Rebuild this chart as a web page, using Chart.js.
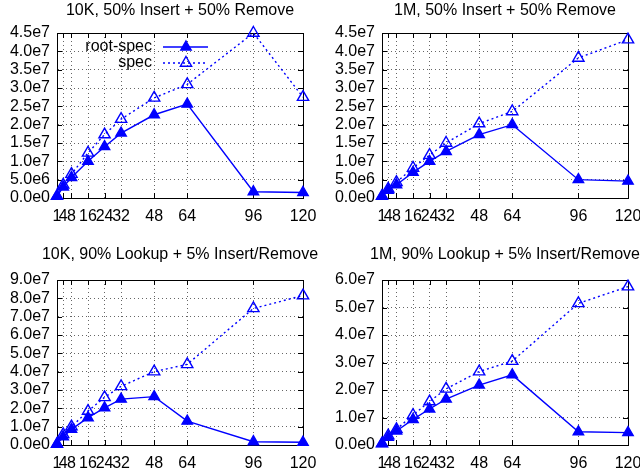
<!DOCTYPE html>
<html>
<head>
<meta charset="utf-8">
<script src="https://cdn.jsdelivr.net/npm/chart.js@4/dist/chart.umd.min.js"></script>
<style>
  html, body { margin: 0; padding: 0; background: #fff; }
  #wrap { position: relative; width: 640px; height: 471px; }
  .panel { position: absolute; }
</style>
</head>
<body>
<div id="wrap">
  <canvas id="c1" class="panel" width="320" height="235" style="left:0;top:0"></canvas>
  <canvas id="c2" class="panel" width="320" height="235" style="left:320px;top:0"></canvas>
  <canvas id="c3" class="panel" width="320" height="236" style="left:0;top:235px"></canvas>
  <canvas id="c4" class="panel" width="320" height="236" style="left:320px;top:235px"></canvas>
</div>
<script>
// threads (x axis)
var threads = [1, 4, 8, 16, 24, 32, 48, 64, 96, 120];
var seriesNames = ['root-spec', 'spec'];

// 10K, 50% Insert + 50% Remove
var ins10kRoot = [0.5e6, 3.0e6, 5.6e6, 10.0e6, 14.0e6, 17.7e6, 22.7e6, 25.6e6, 1.7e6, 1.5e6];
var ins10kSpec = [0.5e6, 3.6e6, 6.5e6, 12.3e6, 17.3e6, 21.5e6, 27.3e6, 31.0e6, 45.0e6, 27.5e6];
// 1M, 50% Insert + 50% Remove
var ins1mRoot = [0.5e6, 2.1e6, 3.6e6, 7.0e6, 10.0e6, 12.7e6, 17.3e6, 20.0e6, 5.0e6, 4.6e6];
var ins1mSpec = [0.5e6, 2.5e6, 4.3e6, 8.2e6, 11.7e6, 15.0e6, 20.3e6, 23.6e6, 38.2e6, 43.2e6];
// 10K, 90% Lookup + 5% Insert/Remove
var look10kRoot = [0.5e6, 4.5e6, 8.5e6, 14.9e6, 20.3e6, 25.0e6, 26.4e6, 13.0e6, 1.8e6, 1.5e6];
var look10kSpec = [0.5e6, 5.8e6, 10.0e6, 18.5e6, 26.0e6, 32.0e6, 40.0e6, 44.0e6, 74.5e6, 81.5e6];
// 1M, 90% Lookup + 5% Insert/Remove
var look1mRoot = [0.5e6, 2.8e6, 5.1e6, 9.3e6, 13.1e6, 16.7e6, 21.8e6, 25.5e6, 4.8e6, 4.5e6];
var look1mSpec = [0.5e6, 3.4e6, 5.7e6, 10.9e6, 15.8e6, 20.4e6, 26.7e6, 30.5e6, 51.5e6, 57.6e6];

var FONT = "'Liberation Sans', Arial, sans-serif";
var BLUE = '#0000ff';
Chart.defaults.font.family = FONT;
Chart.defaults.font.size = 16;
Chart.defaults.color = '#000';

// formato gnuplot: 5.0e6, 1.0e7
function fmtExp(v) {
    return v.toExponential(1).replace('+', '');
}

// caixa, marcas internas, titulo e legenda
var gnuplotBox = {
    id: 'gnuplotBox',
    beforeDatasetsDraw: function(chart) {
        var a = chart.chartArea, ctx = chart.ctx;
        var xs = chart.scales.x, ys = chart.scales.y;
        ctx.save();
        ctx.strokeStyle = '#000';
        ctx.lineWidth = 1;
        ctx.beginPath();
        xs.ticks.forEach(function(t) {
            var px = Math.round(xs.getPixelForValue(t.value)) + 0.5;
            ctx.moveTo(px, a.bottom); ctx.lineTo(px, a.bottom - 5);
            ctx.moveTo(px, a.top); ctx.lineTo(px, a.top + 5);
        });
        ys.ticks.forEach(function(t) {
            var py = Math.round(ys.getPixelForValue(t.value)) + 0.5;
            ctx.moveTo(a.left, py); ctx.lineTo(a.left + 5, py);
            ctx.moveTo(a.right, py); ctx.lineTo(a.right - 5, py);
        });
        ctx.stroke();
        ctx.strokeRect(Math.round(a.left) + 0.5, Math.round(a.top) + 0.5,
                       Math.round(a.right - a.left), Math.round(a.bottom - a.top));
        ctx.restore();
    },
    afterDraw: function(chart, args, opts) {
        var a = chart.chartArea, ctx = chart.ctx;
        ctx.save();
        ctx.fillStyle = '#000';
        ctx.font = '16px ' + FONT;
        ctx.textAlign = 'center';
        ctx.textBaseline = 'middle';
        ctx.fillText(opts.title, (a.left + a.right) / 2, opts.titleY);
        if (opts.legend) {
            chart.data.datasets.forEach(function(ds, i) {
                var y = 47 + i * 16;
                ctx.textAlign = 'right';
                ctx.fillStyle = '#000';
                ctx.fillText(ds.label, 152, y);
                ctx.strokeStyle = ds.borderColor;
                ctx.lineWidth = ds.borderWidth;
                ctx.setLineDash(ds.borderDash || []);
                ctx.beginPath();
                ctx.moveTo(163, y); ctx.lineTo(208, y);
                ctx.stroke();
                ctx.setLineDash([]);
                ctx.fillStyle = ds.pointBackgroundColor;
                ctx.lineWidth = ds.pointBorderWidth;
                Chart.helpers.drawPoint(ctx, {
                    pointStyle: 'triangle', rotation: 0,
                    radius: ds.pointRadius, borderWidth: ds.pointBorderWidth
                }, 186, y);
            });
        }
        ctx.restore();
    }
};

function makeChart(id, title, rootData, specData, yMax, yStep, area, legend) {
    var canvas = document.getElementById(id);
    var W = canvas.width, H = canvas.height;
    return new Chart(canvas.getContext('2d'), {
        type: 'line',
        data: {
            datasets: [
                {
                    label: seriesNames[0],
                    data: threads.map(function(t, i) { return { x: t, y: rootData[i] }; }),
                    borderColor: BLUE,
                    borderWidth: 1.4,
                    pointStyle: 'triangle',
                    pointRadius: 6,
                    pointBorderWidth: 1.4,
                    pointBorderColor: BLUE,
                    pointBackgroundColor: BLUE,
                    tension: 0,
                    clip: false
                },
                {
                    label: seriesNames[1],
                    data: threads.map(function(t, i) { return { x: t, y: specData[i] }; }),
                    borderColor: BLUE,
                    borderWidth: 1.4,
                    borderDash: [2, 3],
                    pointStyle: 'triangle',
                    pointRadius: 6.5,
                    pointBorderWidth: 1.4,
                    pointBorderColor: BLUE,
                    pointBackgroundColor: 'rgba(0,0,0,0)',
                    tension: 0,
                    clip: false
                }
            ]
        },
        options: {
            responsive: false,
            animation: false,
            devicePixelRatio: 1,
            layout: { padding: { left: 0, right: W - area.right, top: area.top, bottom: 0 } },
            scales: {
                x: {
                    type: 'linear',
                    min: 1,
                    max: 120,
                    afterBuildTicks: function(s) {
                        s.ticks = threads.map(function(v) { return { value: v }; });
                    },
                    afterFit: function(s) {
                        s.height = H - area.bottom;
                        s.paddingLeft = 0;
                        s.paddingRight = 0;
                    },
                    ticks: { autoSkip: false, maxRotation: 0, minRotation: 0, padding: 9, color: '#000' },
                    grid: { color: '#666', lineWidth: 1, drawTicks: false },
                    border: { display: true, color: '#000', width: 1, dash: [1, 3] }
                },
                y: {
                    min: 0,
                    max: yMax,
                    afterFit: function(s) {
                        s.width = area.left;
                        s.paddingTop = 0;
                        s.paddingBottom = 0;
                    },
                    ticks: { stepSize: yStep, autoSkip: false, padding: 7, color: '#000',
                             callback: function(v) { return fmtExp(v); } },
                    grid: { color: '#666', lineWidth: 1, drawTicks: false },
                    border: { display: true, color: '#000', width: 1, dash: [1, 3] }
                }
            },
            plugins: {
                legend: { display: false },
                tooltip: { enabled: false },
                gnuplotBox: { title: title, titleY: area.titleY, legend: legend }
            }
        },
        plugins: [gnuplotBox]
    });
}

makeChart('c1', '10K, 50% Insert + 50% Remove', ins10kRoot, ins10kSpec, 4.5e7, 5e6,
          { left: 57, right: 303, top: 33, bottom: 198, titleY: 11 }, true);
makeChart('c2', '1M, 50% Insert + 50% Remove', ins1mRoot, ins1mSpec, 4.5e7, 5e6,
          { left: 62, right: 308, top: 33, bottom: 198, titleY: 11 }, false);
makeChart('c3', '10K, 90% Lookup + 5% Insert/Remove', look10kRoot, look10kSpec, 9e7, 1e7,
          { left: 57, right: 303, top: 45, bottom: 210, titleY: 20 }, false);
makeChart('c4', '1M, 90% Lookup + 5% Insert/Remove', look1mRoot, look1mSpec, 6e7, 1e7,
          { left: 62, right: 308, top: 45, bottom: 210, titleY: 20 }, false);
</script>
</body>
</html>
